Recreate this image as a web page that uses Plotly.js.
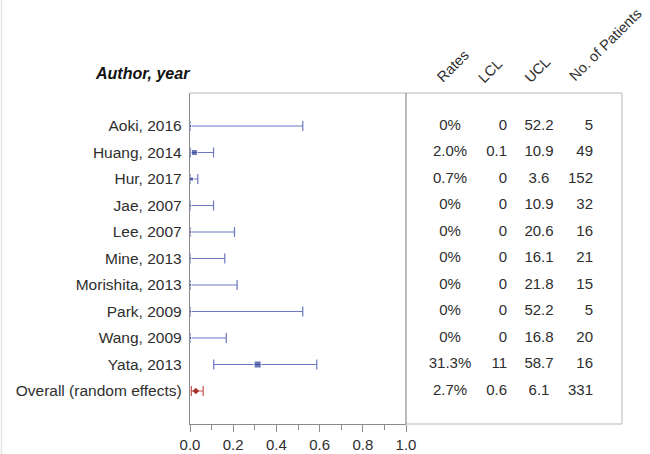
<!DOCTYPE html>
<html>
<head>
<meta charset="utf-8">
<script src="https://cdn.plot.ly/plotly-3.0.1.min.js"></script>
<style>
html,body{margin:0;padding:0;background:#fff;}
#chart{width:650px;height:454px;}
</style>
</head>
<body>
<div id="chart"></div>
<script>
// ---- data ----
var studies = ['Aoki, 2016','Huang, 2014','Hur, 2017','Jae, 2007','Lee, 2007','Mine, 2013',
               'Morishita, 2013','Park, 2009','Wang, 2009','Yata, 2013'];
var overallLabel = 'Overall (random effects)';
var rateLabels = ['0%','2.0%','0.7%','0%','0%','0%','0%','0%','0%','31.3%','2.7%'];
var lclLabels  = ['0','0.1','0','0','0','0','0','0','0','11','0.6'];
var uclLabels  = ['52.2','10.9','3.6','10.9','20.6','16.1','21.8','52.2','16.8','58.7','6.1'];
var patients   = ['5','49','152','32','16','21','15','5','20','16','331'];
var xTicks = [0, 0.2, 0.4, 0.6, 0.8, 1.0];
var xTickText = ['0.0','0.2','0.4','0.6','0.8','1.0'];
var headers = ['Rates','LCL','UCL','No. of Patients'];

// ---- derived ----
var rows = studies.concat([overallLabel]);
var rate = rateLabels.map(function(s){return parseFloat(s)/100;});
var lcl  = lclLabels.map(function(s){return parseFloat(s)/100;});
var ucl  = uclLabels.map(function(s){return parseFloat(s)/100;});
var nS = studies.length;

// page geometry helpers (plot area: x 190..622, y 93..424)
var L=190, R=28, T=93, B=30, W=650-L-R, H=454-T-B;
function px(x){return (x-L)/W;}
function py(y){return (454-B-y)/H;}

var txtColor = '#2e2e2e';
var font = {family:'Liberation Sans, Arial, sans-serif', size:15, color:txtColor};

var studyTrace = {
  type:'scatter', mode:'markers', xaxis:'x', yaxis:'y',
  x: rate.slice(0,nS), y: studies,
  marker:{symbol:'square', color:'#2c3d98', size:[3,6,4,3,3,3,3,3,3,7]},
  error_x:{type:'data', symmetric:false,
    array: ucl.slice(0,nS).map(function(u,i){return u-rate[i];}),
    arrayminus: lcl.slice(0,nS).map(function(l,i){return rate[i]-l;}),
    color:'#6b79c2', thickness:1.2, width:5},
  cliponaxis:false, hoverinfo:'none', showlegend:false
};
var overallTrace = {
  type:'scatter', mode:'markers', xaxis:'x', yaxis:'y',
  x:[rate[nS]], y:[overallLabel],
  marker:{symbol:'diamond', color:'#a8302a', size:5},
  error_x:{type:'data', symmetric:false, array:[ucl[nS]-rate[nS]], arrayminus:[rate[nS]-lcl[nS]],
    color:'#c0504d', thickness:1.2, width:5},
  cliponaxis:false, hoverinfo:'none', showlegend:false
};
function col(labels, xpos, pos){
  return {type:'scatter', mode:'text', xaxis:'x2', yaxis:'y',
    x: rows.map(function(){return xpos;}), y: rows, text: labels,
    textposition: pos, textfont: font, cliponaxis:false, hoverinfo:'none', showlegend:false};
}
var traces = [studyTrace, overallTrace,
  col(rateLabels, 44, 'middle center'),
  col(lclLabels, 101, 'middle left'),
  col(uclLabels, 133, 'middle center'),
  col(patients, 187, 'middle left')];

var headerCenters = [[453,66],[490,71],[537,70],[605,45]];
var annotations = [{
  xref:'paper', yref:'paper', x:px(192), y:py(74), xanchor:'right', yanchor:'middle',
  text:'<b><i>Author, year</i></b>', showarrow:false,
  font:{family:'Liberation Sans, Arial, sans-serif', size:16, color:'#111'}
}];
headers.forEach(function(h,i){
  annotations.push({xref:'paper', yref:'paper', x:px(headerCenters[i][0]), y:py(headerCenters[i][1]),
    xanchor:'center', yanchor:'middle', textangle:-45, text:h, showarrow:false,
    font:{family:'Liberation Sans, Arial, sans-serif', size:14.5, color:txtColor}});
});

var shapes = [
  {type:'line', xref:'paper', yref:'paper', x0:0, x1:1, y0:1, y1:1, line:{color:'#cfcfcf', width:1.5}},
  {type:'line', xref:'paper', yref:'paper', x0:1, x1:1, y0:0, y1:1, line:{color:'#cfcfcf', width:1.5}},
  {type:'line', xref:'paper', yref:'paper', x0:0.5, x1:1, y0:0, y1:0, line:{color:'#cfcfcf', width:1.5}},
  {type:'line', xref:'paper', yref:'paper', x0:0.5, x1:0.5, y0:0, y1:1, line:{color:'#8c8c8c', width:1.2}},
  {type:'line', xref:'paper', yref:'paper', x0:px(1.5), x1:px(1.5), y0:py(454), y1:py(0), line:{color:'#e6e6e6', width:1.5}}
];

var layout = {
  width:650, height:454, margin:{l:L, r:R, t:T, b:B},
  paper_bgcolor:'#fff', plot_bgcolor:'#fff', font: font,
  xaxis:{domain:[0,0.5], range:[0,1], tickvals:xTicks, ticktext:xTickText,
    ticks:'outside', ticklen:7, tickcolor:'#8c8c8c', tickwidth:1,
    minor:{dtick:0.1, tick0:0, ticks:'outside', ticklen:5, tickcolor:'#8c8c8c'},
    showline:true, linecolor:'#8c8c8c', linewidth:1.2, showgrid:false, zeroline:false,
    tickfont:font, fixedrange:true},
  xaxis2:{domain:[0.5,1], range:[0,216], visible:false, fixedrange:true},
  yaxis:{type:'category', categoryarray:rows, range:[rows.length-1+1.245, -1.245],
    showline:true, linecolor:'#8c8c8c', linewidth:1.2, showgrid:false, zeroline:false,
    ticks:'outside', ticklen:4, tickcolor:'rgba(0,0,0,0)',
    tickfont:{family:'Liberation Sans, Arial, sans-serif', size:15.5, color:txtColor}, fixedrange:true},
  annotations: annotations, shapes: shapes, showlegend:false
};
Plotly.newPlot('chart', traces, layout, {displayModeBar:false, staticPlot:true});
</script>
</body>
</html>
